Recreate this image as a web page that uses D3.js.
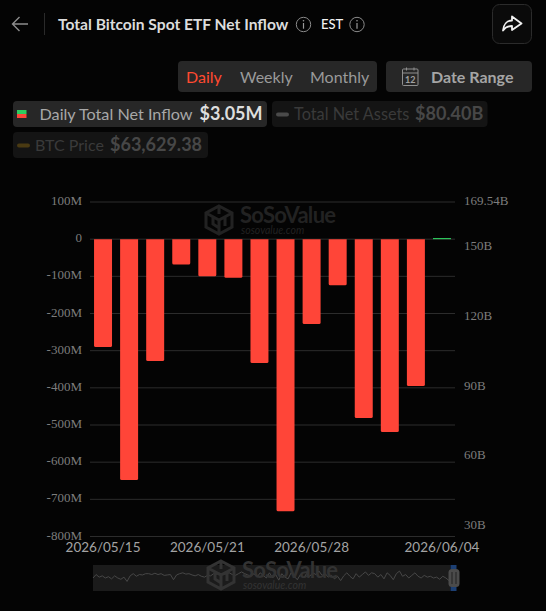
<!DOCTYPE html>
<html lang="en">
  <head>
    <meta charset="UTF-8" />
    <title>Total Bitcoin Spot ETF Net Inflow</title>
    <script src="https://d3js.org/d3.v7.min.js"></script>
    <style>
      body {
        margin: 0px;
        overflow: hidden;
        background: #040404;
      }
      text {
        font-family: Lato, "Noto Sans", sans-serif;
      }
      .serif text,
      text.serif {
        font-family: "Liberation Serif", serif;
      }
    </style>
  </head>
  <body>
    <svg width="546" height="611"></svg>
    <script>
      var dates = [
        "2026/05/15", "2026/05/18", "2026/05/19", "2026/05/20", "2026/05/21",
        "2026/05/22", "2026/05/26", "2026/05/27", "2026/05/28", "2026/05/29",
        "2026/06/01", "2026/06/02", "2026/06/03", "2026/06/04"
      ];
      // daily net inflow in millions
      var netInflow = [-290, -648, -328, -68, -100, -104, -333, -732, -228, -124, -481, -519, -395, 3.05];
      var leftTicks = [100, 0, -100, -200, -300, -400, -500, -600, -700, -800];
      var rightTicks = [169.54, 150, 120, 90, 60, 30];
      var xLabels = ["2026/05/15", "2026/05/21", "2026/05/28", "2026/06/04"];
      var periods = ["Daily", "Weekly", "Monthly"];
      // overview line under the chart, rough reading of the brush shape
      var overview = [
        50, 58, 52, 55, 50, 53, 48, 55, 50, 47, 52, 42, 55, 60, 54, 58, 57, 60, 60, 58,
        61, 58, 60, 56, 57, 58, 46, 57, 60, 62, 59, 60, 57, 55, 58, 54, 52, 56, 55, 60,
        59, 61, 58, 60, 62, 58, 56, 60, 64, 60, 57, 54, 60, 52, 62, 56, 50, 62, 50, 58,
        45, 60, 52, 48, 62, 54, 46, 58, 50, 60, 54, 62, 58, 66, 56, 60, 52, 56, 48, 54,
        44, 55, 62, 54, 48, 60, 52, 58, 64, 56, 62, 60, 52, 58, 48, 62, 56, 46, 60, 66,
        54, 58, 50, 56, 62, 54, 50, 56, 52, 54, 50, 52, 47, 54, 50, 44
      ];

      var svg = d3.select("svg");
      var margin = { top: 202, right: 91, bottom: 74.5, left: 90 };
      var width = +svg.attr("width");
      var height = +svg.attr("height");
      var chartWidth = width - margin.left - margin.right;
      var chartHeight = height - margin.top - margin.bottom;

      var xScale = d3.scaleBand().domain(dates).range([0, chartWidth]).paddingInner(0.31).paddingOuter(0.155);
      var yScale = d3.scaleLinear().domain([-800, 100]).range([chartHeight, 0]);
      var yRight = d3.scaleLinear().domain([25.4, 169.54]).range([chartHeight, 0]);

      function panel(x, y, w, h, fill, r) {
        svg.append("rect").attr("x", x).attr("y", y).attr("width", w).attr("height", h)
          .attr("rx", r === undefined ? 4 : r).attr("fill", fill);
      }
      function label(x, y, str, size, fill, weight, anchor) {
        return svg.append("text").attr("x", x).attr("y", y).text(str)
          .attr("font-size", size).attr("fill", fill)
          .attr("font-weight", weight || 400).attr("text-anchor", anchor || "start");
      }
      function infoIcon(cx, cy) {
        svg.append("circle").attr("cx", cx).attr("cy", cy).attr("r", 7.2)
          .attr("fill", "none").attr("stroke", "#8a8a8a").attr("stroke-width", 1);
        svg.append("line").attr("x1", cx).attr("x2", cx).attr("y1", cy - 1.5).attr("y2", cy + 4.2)
          .attr("stroke", "#9a9a9a").attr("stroke-width", 1.2);
        svg.append("circle").attr("cx", cx).attr("cy", cy - 3.8).attr("r", 0.8).attr("fill", "#9a9a9a");
      }

      // header
      svg.append("path").attr("d", "M28 24H12.5M19.5 17L12.5 24L19.5 31")
        .attr("fill", "none").attr("stroke", "#8c8c8c").attr("stroke-width", 1.4);
      svg.append("line").attr("x1", 44.5).attr("x2", 44.5).attr("y1", 13).attr("y2", 35).attr("stroke", "#2a2a2a");
      label(58, 30, "Total Bitcoin Spot ETF Net Inflow", 15.6, "#dcdcdc", 700);
      infoIcon(303.5, 24.5);
      label(321, 29, "EST", 13, "#f2f2f2", 500);
      infoIcon(357, 24.5);
      svg.append("rect").attr("x", 492.5).attr("y", 4.5).attr("width", 39).attr("height", 39).attr("rx", 7)
        .attr("fill", "#0a0a0a").attr("stroke", "#2b2b2b");
      svg.append("path").attr("d", "M512 16.5L521.5 23.5L512 30V26C507 26 505 27.5 503 30.5C503.5 24.5 507 20.5 512 20.5Z")
        .attr("fill", "none").attr("stroke", "#f0f0f0").attr("stroke-width", 1.8).attr("stroke-linejoin", "round");

      // period switch and date range
      panel(178, 61, 199, 31, "#272727");
      var periodX = [186, 240, 310];
      periods.forEach(function (p, i) {
        label(periodX[i], 83, p, 16, i == 0 ? "#ff4a30" : "#9a9a9a");
      });
      panel(386, 61, 146, 31, "#272727");
      var cal = svg.append("g").attr("fill", "none").attr("stroke", "#909090").attr("stroke-width", 1);
      cal.append("rect").attr("x", 402.5).attr("y", 69).attr("width", 15.5).attr("height", 16.5).attr("rx", 1);
      cal.append("line").attr("x1", 402.5).attr("x2", 418).attr("y1", 73).attr("y2", 73);
      cal.append("line").attr("x1", 406.5).attr("x2", 406.5).attr("y1", 67.5).attr("y2", 70.5);
      cal.append("line").attr("x1", 414).attr("x2", 414).attr("y1", 67.5).attr("y2", 70.5);
      label(410.2, 83, "12", 9, "#a0a0a0", 700, "middle");
      label(431, 83, "Date Range", 16, "#a5a5a5", 700);

      // legend chips
      panel(13, 101, 254, 26, "#272727");
      svg.append("rect").attr("x", 17).attr("y", 110).attr("width", 9.5).attr("height", 4).attr("fill", "#2ecc5f");
      svg.append("rect").attr("x", 17).attr("y", 114).attr("width", 9.5).attr("height", 4).attr("fill", "#ff4538");
      label(39.5, 120, "Daily Total Net Inflow", 16.2, "#a8a8a8");
      label(199.5, 120, "$3.05M", 18, "#dedede", 700);
      panel(272, 101, 215.5, 26, "#141414");
      svg.append("rect").attr("x", 276).attr("y", 112.5).attr("width", 13).attr("height", 4).attr("rx", 2).attr("fill", "#4a4a4a");
      label(294, 120, "Total Net Assets", 16.3, "#3a3a3a");
      label(415, 120, "$80.40B", 18, "#474747", 700);
      panel(13, 132, 195, 26, "#141414");
      svg.append("rect").attr("x", 17).attr("y", 143.5).attr("width", 13).attr("height", 4).attr("rx", 2).attr("fill", "#4a3a12");
      label(35, 151, "BTC Price", 16, "#3a3a3a");
      label(110, 151, "$63,629.38", 18, "#474747", 700);

      var g = svg.append("g").attr("transform", `translate(${margin.left}, ${margin.top})`);

      // grid lines
      g.selectAll("line.grid")
        .data(leftTicks)
        .enter()
        .append("line")
        .attr("class", "grid")
        .attr("x1", 0)
        .attr("x2", chartWidth)
        .attr("y1", function (d) { return yScale(d); })
        .attr("y2", function (d) { return yScale(d); })
        .attr("stroke", "#2c2c2c")
        .attr("stroke-width", 1);

      // watermark
      function watermark(x, y, color) {
        var w = svg.append("g").attr("transform", `translate(${x}, ${y})`);
        w.append("path").attr("d", "M13 0L26 7V21L13 28L0 21V7Z M13 0V8 M0 7L13 14L26 7 M13 14V28 M7 11V18L13 22 M19 10V20")
          .attr("fill", "none").attr("stroke", color).attr("stroke-width", 3);
        w.append("text").attr("x", 34).attr("y", 17).attr("font-size", 22).attr("font-weight", 700)
          .attr("letter-spacing", -0.7).attr("fill", color).text("SoSoValue");
        w.append("text").attr("x", 35).attr("y", 28).attr("font-size", 10.5).attr("font-style", "italic")
          .attr("fill", color).text("sosovalue.com");
      }
      watermark(206, 206, "#222222");

      // bars
      g.selectAll("path.bar")
        .data(netInflow)
        .enter()
        .append("path")
        .attr("class", "bar")
        .attr("fill", function (d) { return d >= 0 ? "#2ecc5f" : "#ff4538"; })
        .attr("d", function (d, i) {
          var x = xScale(dates[i]);
          var w = xScale.bandwidth();
          var y0 = yScale(0);
          var y1 = yScale(d);
          if (d >= 0) return `M${x},${y0}V${y1}H${x + w}V${y0}Z`;
          return `M${x},${y0}V${y1 - 1.5}Q${x},${y1} ${x + 1.5},${y1}H${x + w - 1.5}Q${x + w},${y1} ${x + w},${y1 - 1.5}V${y0}Z`;
        });

      // axes
      var leftAxis = d3.axisLeft(yScale).tickValues(leftTicks).tickSize(0).tickPadding(8)
        .tickFormat(function (d) { return d == 0 ? "0" : d + "M"; });
      var rightAxis = d3.axisRight(yRight).tickValues(rightTicks).tickSize(0).tickPadding(9)
        .tickFormat(function (d) { return d + "B"; });
      var xAxis = d3.axisBottom(xScale).tickValues(xLabels).tickSize(0).tickPadding(6);

      var la = g.append("g").attr("class", "serif").call(leftAxis);
      var ra = g.append("g").attr("class", "serif").attr("transform", `translate(${chartWidth}, 0)`).call(rightAxis);
      var xa = g.append("g").attr("transform", `translate(0, ${chartHeight})`).call(xAxis);
      [la, ra, xa].forEach(function (a) { a.select(".domain").remove(); });
      la.selectAll("text").attr("font-size", 13).attr("fill", "#7d7d7d").attr("dy", "0.2em");
      ra.selectAll("text").attr("font-size", 13).attr("fill", "#7d7d7d").attr("dy", "0.2em");
      xa.selectAll("text").attr("font-size", 13.5).attr("fill", "#a3a3a3");

      // overview strip
      panel(93, 565, 357, 26, "#1b1b1b", 0);
      var ovX = d3.scaleLinear().domain([0, overview.length - 1]).range([93, 449]);
      var ovY = d3.scaleLinear().domain([20, 80]).range([591, 565]);
      svg.append("path")
        .attr("d", d3.line().x(function (d, i) { return ovX(i); }).y(function (d) { return ovY(d); })(overview))
        .attr("fill", "none")
        .attr("stroke", "#474747")
        .attr("stroke-width", 1);
      watermark(208, 561, "#333333");

      // brush handle
      svg.append("rect").attr("x", 450.5).attr("y", 565).attr("width", 6).attr("height", 26).attr("fill", "#1c3f73");
      svg.append("rect").attr("x", 448.5).attr("y", 569).attr("width", 11).attr("height", 18).attr("rx", 3.5).attr("fill", "#4b4b4b");
      svg.append("line").attr("x1", 452).attr("x2", 452).attr("y1", 572).attr("y2", 584).attr("stroke", "#222222");
      svg.append("line").attr("x1", 456).attr("x2", 456).attr("y1", 572).attr("y2", 584).attr("stroke", "#222222");
    </script>
  </body>
</html>
